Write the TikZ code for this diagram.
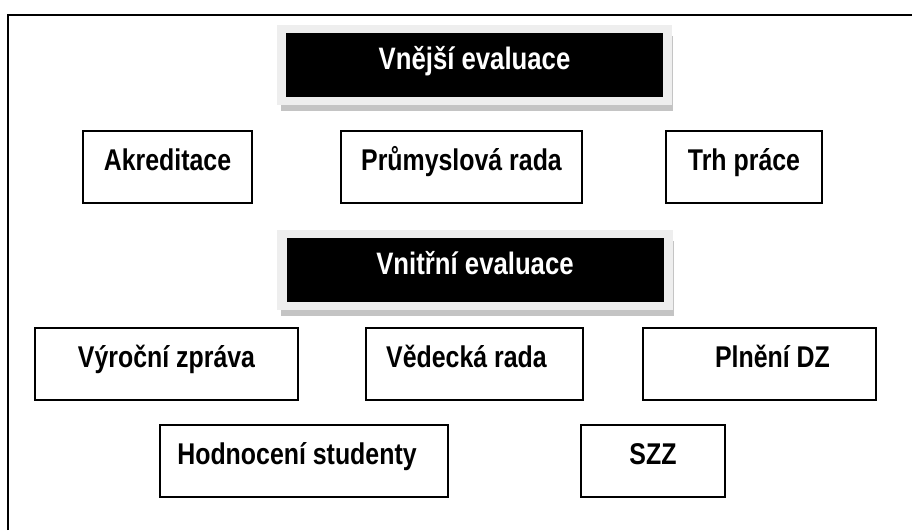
\documentclass[tikz,border=0pt]{standalone}
\usepackage{fontspec}
\setmainfont{Liberation Sans}[FakeStretch=0.83]
\usetikzlibrary{backgrounds}
\definecolor{lightframe}{HTML}{EEEEEE}
\definecolor{shadowgray}{HTML}{C4C4C4}
\tikzset{
  wbox/.style={draw=black, line width=1.6pt, fill=white, rectangle,
    font=\fontsize{30}{35}\selectfont\bfseries, text height=22pt, text depth=15pt,
    inner sep=0pt, minimum height=72pt},
  bbox/.style={fill=black, text=white, rectangle,
    font=\fontsize{31}{36}\selectfont\bfseries, text height=22pt, text depth=14pt,
    inner sep=0pt, minimum width=377pt, minimum height=64pt},
  frameline/.style={line width=2pt, black}
}
\begin{document}
\begin{tikzpicture}[x=1pt,y=-1pt]
\useasboundingbox (0,0) rectangle (912,530);
% outer frame (only top and left visible)
\coordinate (ftl) at (8,15);
\coordinate (ftr) at (912,15);
\coordinate (fbl) at (8,530);
\draw[frameline] (fbl) -- (ftl) -- (ftr);

% headings
\node[bbox] (vne) at (474.5,65) {Vnější evaluace};
\node[bbox] (vni) at (475,270) {Vnitřní evaluace};
\begin{scope}[on background layer]
  \foreach \n in {vne,vni}{
    \fill[shadowgray] ([xshift=-5pt,yshift=-3pt]\n.north west) rectangle ([xshift=10pt,yshift=-14pt]\n.south east);
    \fill[lightframe] ([xshift=-9pt,yshift=8pt]\n.north west) rectangle ([xshift=9pt,yshift=-8pt]\n.south east);
  }
\end{scope}

% outer evaluation
\node[wbox, minimum width=169pt] (akr) at (167.5,167) {Akreditace};
\node[wbox, minimum width=241pt] (pru) at (461.5,167) {Průmyslová rada};
\node[wbox, minimum width=156pt] (trh) at (744,167) {Trh práce};

% inner evaluation
\node[wbox, minimum width=263pt] (vyr) at (166.5,364) {Výroční zpráva};
\node[wbox, minimum width=217pt] (ved) at (474.5,364) {Vědecká rada\hspace*{16pt}};
\node[wbox, minimum width=233pt] (pln) at (759.5,364) {\hspace*{26pt}Plnění DZ};
\node[wbox, minimum width=288pt] (hod) at (304,461) {Hodnocení studenty\hspace*{14pt}};
\node[wbox, minimum width=144pt] (szz) at (653,461) {SZZ};
\end{tikzpicture}
\end{document}
